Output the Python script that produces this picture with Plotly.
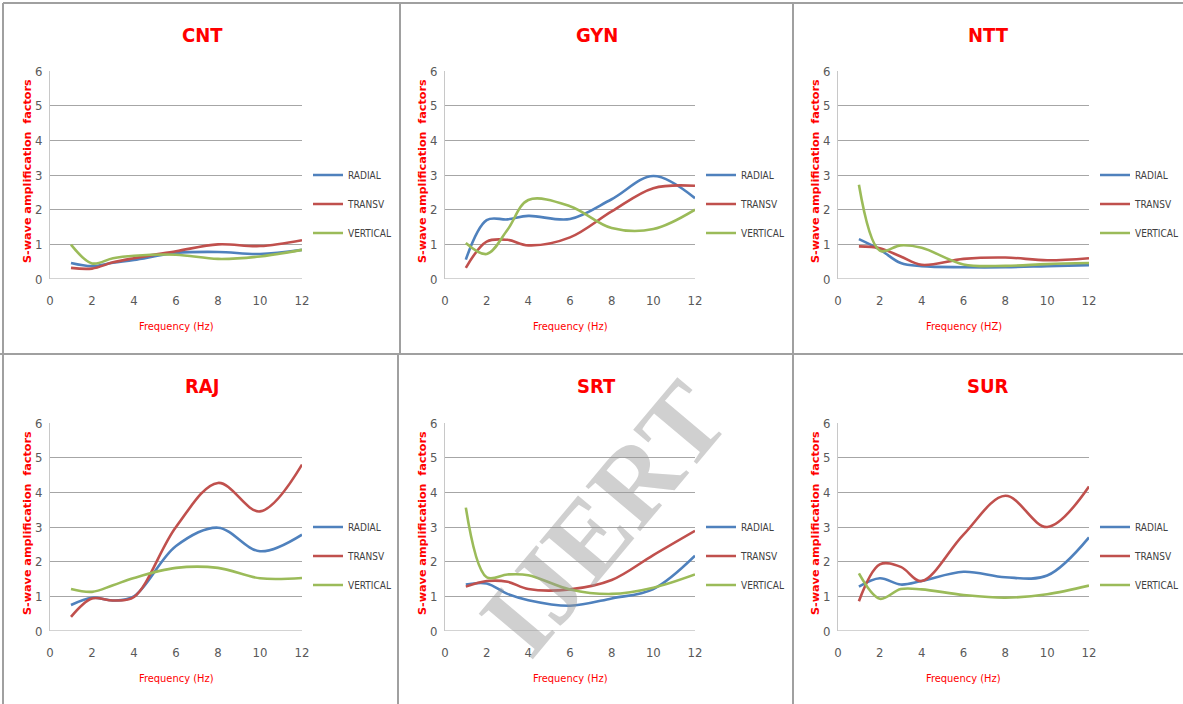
import plotly.graph_objects as go

# Frequencies (Hz) at which the spectral ratios were computed
freq = [1, 2, 3, 4, 6, 8, 10, 12]

components = ["RADIAL", "TRANSV", "VERTICAL"]
stations = ["CNT", "GYN", "NTT", "RAJ", "SRT", "SUR"]

# S-wave amplification factors per station and component
cnt_radial = [0.46, 0.37, 0.47, 0.55, 0.75, 0.78, 0.72, 0.84]
cnt_transv = [0.32, 0.30, 0.48, 0.60, 0.80, 1.00, 0.95, 1.12]
cnt_vertical = [0.99, 0.45, 0.60, 0.67, 0.70, 0.58, 0.65, 0.84]

gyn_radial = [0.56, 1.70, 1.72, 1.82, 1.73, 2.30, 2.97, 2.33]
gyn_transv = [0.32, 1.08, 1.13, 0.97, 1.20, 1.95, 2.62, 2.69]
gyn_vertical = [1.04, 0.72, 1.42, 2.28, 2.10, 1.47, 1.44, 2.00]

ntt_radial = [1.15, 0.85, 0.46, 0.37, 0.34, 0.34, 0.37, 0.40]
ntt_transv = [0.94, 0.89, 0.65, 0.41, 0.58, 0.62, 0.54, 0.60]
ntt_vertical = [2.72, 0.82, 0.97, 0.90, 0.42, 0.38, 0.43, 0.46]

raj_radial = [0.75, 0.96, 0.88, 1.00, 2.45, 2.98, 2.30, 2.78]
raj_transv = [0.41, 0.94, 0.88, 0.98, 3.00, 4.27, 3.45, 4.80]
raj_vertical = [1.21, 1.13, 1.32, 1.53, 1.82, 1.82, 1.52, 1.53]

srt_radial = [1.34, 1.37, 1.07, 0.89, 0.73, 0.94, 1.21, 2.17]
srt_transv = [1.28, 1.44, 1.42, 1.21, 1.20, 1.47, 2.19, 2.89]
srt_vertical = [3.56, 1.55, 1.63, 1.61, 1.20, 1.07, 1.25, 1.63]

sur_radial = [1.28, 1.52, 1.34, 1.44, 1.71, 1.55, 1.60, 2.70]
sur_transv = [0.86, 1.92, 1.85, 1.44, 2.78, 3.90, 3.00, 4.17]
sur_vertical = [1.66, 0.93, 1.21, 1.20, 1.04, 0.96, 1.06, 1.31]

station_series = {
    "CNT": [cnt_radial, cnt_transv, cnt_vertical],
    "GYN": [gyn_radial, gyn_transv, gyn_vertical],
    "NTT": [ntt_radial, ntt_transv, ntt_vertical],
    "RAJ": [raj_radial, raj_transv, raj_vertical],
    "SRT": [srt_radial, srt_transv, srt_vertical],
    "SUR": [sur_radial, sur_transv, sur_vertical],
}
x_titles = ["Frequency (Hz)", "Frequency (Hz)", "Frequency (HZ)",
            "Frequency (Hz)", "Frequency (Hz)", "Frequency (Hz)"]
y_title = "S-wave amplification  factors"

colors = ["#4F81BD", "#C0504D", "#9BBB59"]
RED = "#FF0000"
NARROW = "DejaVu Sans Condensed, Liberation Sans Narrow, Arial Narrow, sans-serif"

W, H = 1183, 704


def px_x(v):
    return v / W


def px_y(v):
    return 1 - v / H


# Panel geometry in pixels
col_plot = [(50, 302), (445, 695), (838, 1089)]
col_panel = [(4, 400), (400, 793), (793, 1183)]
row_plot = [(71, 279), (423, 631)]
row_panel = [(3, 354), (354, 704)]

fig = go.Figure()
layout = dict(
    width=W, height=H,
    margin=dict(l=0, r=0, t=0, b=0, autoexpand=False),
    paper_bgcolor="white", plot_bgcolor="white",
    showlegend=True,
    annotations=[], shapes=[],
)

for i, st in enumerate(stations):
    r, c = divmod(i, 3)
    x0, x1 = col_plot[c]
    y0, y1 = row_plot[r]
    ax = "" if i == 0 else str(i + 1)
    leg = "legend" if i == 0 else f"legend{i + 1}"

    for comp, vals, col in zip(components, station_series[st], colors):
        fig.add_trace(go.Scatter(
            x=freq, y=vals, name=comp, mode="lines",
            line=dict(color=col, width=2.6, shape="spline", smoothing=1.0),
            xaxis=f"x{ax}", yaxis=f"y{ax}",
            legend=leg, legendgroup=f"{st}-{comp}",
        ))

    layout[f"xaxis{ax}"] = dict(
        domain=[px_x(x0), px_x(x1)], anchor=f"y{ax}",
        range=[0, 12], tickvals=[0, 2, 4, 6, 8, 10, 12],
        showgrid=False, zeroline=False, showline=False,
        ticks="", ticklabelstandoff=12,
        tickfont=dict(family=NARROW, size=13, color="#595959"),
        fixedrange=True, automargin=False,
    )
    layout[f"yaxis{ax}"] = dict(
        domain=[px_y(y1), px_y(y0)], anchor=f"x{ax}",
        range=[0, 6], tickvals=[0, 1, 2, 3, 4, 5, 6],
        showgrid=True, gridcolor="#A6A6A6", gridwidth=1,
        zeroline=False, showline=True, linecolor="#C8C8C8", linewidth=1,
        ticks="", ticklabelstandoff=4,
        tickfont=dict(family=NARROW, size=13, color="#595959"),
        fixedrange=True, automargin=False,
    )
    # bottom axis line along y = 0
    layout["shapes"].append(dict(
        type="line", xref=f"x{ax}", yref=f"y{ax}", x0=0, x1=12, y0=0, y1=0,
        line=dict(color="#A6A6A6", width=1), layer="below",
    ))

    layout[leg] = dict(
        x=px_x(x1 + 6), y=px_y(y0 + 133), xanchor="left", yanchor="middle",
        font=dict(family=NARROW, size=10, color="#404040"),
        bgcolor="rgba(0,0,0,0)", tracegroupgap=10, itemwidth=30,
    )

    px0, px1 = col_panel[c]
    py0, py1 = row_panel[r]
    # station name
    layout["annotations"].append(dict(
        text=f"<b>{st}</b>", xref="paper", yref="paper",
        x=px_x((px0 + px1) / 2), y=px_y(py0 + 32), xanchor="center", yanchor="middle",
        showarrow=False, font=dict(family=NARROW, size=20, color=RED),
    ))
    # axis titles
    layout["annotations"].append(dict(
        text=x_titles[i], xref="paper", yref="paper",
        x=px_x((x0 + x1) / 2), y=px_y(y1 + 47), xanchor="center", yanchor="middle",
        showarrow=False, font=dict(family=NARROW, size=11, color=RED),
    ))
    layout["annotations"].append(dict(
        text=f"<b>{y_title}</b>", xref="paper", yref="paper",
        x=px_x(x0 - 23), y=px_y((y0 + y1) / 2 - 4), xanchor="center", yanchor="middle",
        textangle=-90, showarrow=False,
        font=dict(family="DejaVu Sans, Verdana, sans-serif", size=11.2, color=RED),
    ))

# panel frames
frame = dict(color="#A0A0A0", width=2)
layout["shapes"] += [
    dict(type="line", xref="paper", yref="paper", x0=px_x(3), x1=1, y0=px_y(3), y1=px_y(3), line=frame),
    dict(type="line", xref="paper", yref="paper", x0=px_x(3), x1=px_x(3), y0=px_y(3), y1=0, line=frame),
    dict(type="line", xref="paper", yref="paper", x0=0, x1=1, y0=px_y(354), y1=px_y(354), line=frame),
    dict(type="line", xref="paper", yref="paper", x0=px_x(400), x1=px_x(400), y0=px_y(3), y1=px_y(354), line=frame),
    dict(type="line", xref="paper", yref="paper", x0=px_x(398), x1=px_x(398), y0=px_y(354), y1=0, line=frame),
    dict(type="line", xref="paper", yref="paper", x0=px_x(793), x1=px_x(793), y0=px_y(3), y1=0, line=frame),
]

# publisher watermark
layout["annotations"].append(dict(
    text="<b>IJERT</b>", xref="paper", yref="paper",
    x=px_x(603), y=px_y(518), xanchor="center", yanchor="middle",
    textangle=-50, showarrow=False,
    font=dict(family="Liberation Serif, Times New Roman, serif", size=108,
              color="rgba(150,150,150,0.45)"),
))

fig.update_layout(**layout)
fig.write_html("out.html")
